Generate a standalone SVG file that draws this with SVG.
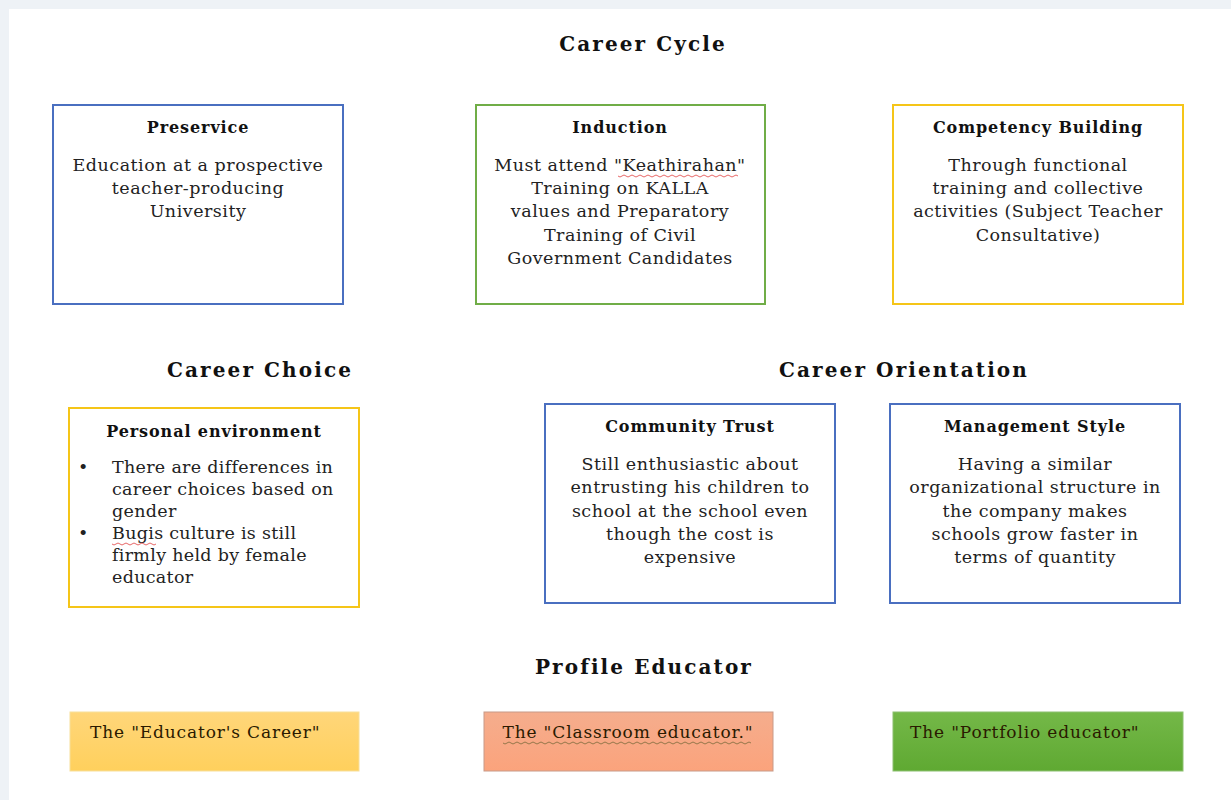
<svg xmlns="http://www.w3.org/2000/svg" width="1231" height="800" viewBox="0 0 1231 800">
<style>
.sec{font-family:"DejaVu Serif","Liberation Serif",serif;font-weight:bold;font-size:20px;fill:#111;text-anchor:middle;letter-spacing:2.1px}
.hd{font-family:"DejaVu Serif","Liberation Serif",serif;font-weight:bold;font-size:16px;fill:#111;text-anchor:middle;letter-spacing:0.9px}
.bd{font-family:"DejaVu Serif","Liberation Serif",serif;font-size:17.5px;fill:#222;text-anchor:middle;letter-spacing:0.5px}
.bl{font-family:"DejaVu Serif","Liberation Serif",serif;font-size:17.5px;fill:#222;letter-spacing:0.3px}
.blue{fill:#fff;stroke:#4a6fc0;stroke-width:2}
.green{fill:#fff;stroke:#70ad47;stroke-width:2}
.gold{fill:#fff;stroke:#f5c518;stroke-width:2}
.pf{font-family:"DejaVu Serif","Liberation Serif",serif;font-size:17px;fill:#2a1a00;letter-spacing:0.85px}
.sq{fill:none;stroke:#e04040;stroke-width:0.8}
</style>
<defs>
<linearGradient id="gY" x1="0" y1="0" x2="0" y2="1"><stop offset="0" stop-color="#ffd67a"/><stop offset="1" stop-color="#ffd05c"/></linearGradient>
<linearGradient id="gR" x1="0" y1="0" x2="0" y2="1"><stop offset="0" stop-color="#f5ad8d"/><stop offset="1" stop-color="#fba37c"/></linearGradient>
<linearGradient id="gG" x1="0" y1="0" x2="0" y2="1"><stop offset="0" stop-color="#74b848"/><stop offset="1" stop-color="#5fa932"/></linearGradient>
</defs>
<rect x="0" y="0" width="1231" height="800" fill="#eef2f6"/>
<rect x="9" y="9" width="1222" height="791" fill="#fff"/>

<text class="sec" x="643" y="51">Career Cycle</text>
<text class="sec" x="260" y="377">Career Choice</text>
<text class="sec" x="904" y="377">Career Orientation</text>
<text class="sec" x="644" y="674">Profile Educator</text>

<g id="preservice">
<rect class="blue" x="53" y="105" width="290" height="199"/>
<text class="hd" x="198" y="133">Preservice</text>
<text class="bd" x="198" y="171">Education at a prospective</text>
<text class="bd" x="198" y="194">teacher-producing</text>
<text class="bd" x="198" y="217">University</text>
</g>

<g id="induction">
<rect class="green" x="476" y="105" width="289" height="199"/>
<text class="hd" x="620" y="133">Induction</text>
<text class="bd" x="620" y="171">Must attend "Keathirahan"</text>
<path class="sq" d="M618 176 q2 2 4 0 t4 0 t4 0 t4 0 t4 0 t4 0 t4 0 t4 0 t4 0 t4 0 t4 0 t4 0 t4 0 t4 0 t4 0 t4 0 t4 0 t4 0 t4 0 t4 0 t4 0 t4 0 t4 0 t4 0 t4 0 t4 0 t4 0 t4 0 t4 0 t4 0"/>
<text class="bd" x="620" y="194">Training on KALLA</text>
<text class="bd" x="620" y="217">values and Preparatory</text>
<text class="bd" x="620" y="241">Training of Civil</text>
<text class="bd" x="620" y="264">Government Candidates</text>
</g>

<g id="competency">
<rect class="gold" x="893" y="105" width="290" height="199"/>
<text class="hd" x="1038" y="133">Competency Building</text>
<text class="bd" x="1038" y="171">Through functional</text>
<text class="bd" x="1038" y="194">training and collective</text>
<text class="bd" x="1038" y="217">activities (Subject Teacher</text>
<text class="bd" x="1038" y="241">Consultative)</text>
</g>

<g id="personal">
<rect class="gold" x="69" y="408" width="290" height="199"/>
<text class="hd" x="214" y="437">Personal environment</text>
<text class="bl" x="78" y="473">•</text>
<text class="bl" x="112" y="473">There are differences in</text>
<text class="bl" x="112" y="495">career choices based on</text>
<text class="bl" x="112" y="517">gender</text>
<text class="bl" x="78" y="539">•</text>
<text class="bl" x="112" y="539">Bugis culture is still</text>
<path class="sq" d="M112 544 q2 2 4 0 t4 0 t4 0 t4 0 t4 0 t4 0 t4 0 t4 0 t4 0 t4 0 t4 0"/>
<text class="bl" x="112" y="561">firmly held by female</text>
<text class="bl" x="112" y="583">educator</text>
</g>

<g id="community">
<rect class="blue" x="545" y="404" width="290" height="199"/>
<text class="hd" x="690" y="432">Community Trust</text>
<text class="bd" x="690" y="470">Still enthusiastic about</text>
<text class="bd" x="690" y="493">entrusting his children to</text>
<text class="bd" x="690" y="517">school at the school even</text>
<text class="bd" x="690" y="540">though the cost is</text>
<text class="bd" x="690" y="563">expensive</text>
</g>

<g id="management">
<rect class="blue" x="890" y="404" width="290" height="199"/>
<text class="hd" x="1035" y="432">Management Style</text>
<text class="bd" x="1035" y="470">Having a similar</text>
<text class="bd" x="1035" y="493">organizational structure in</text>
<text class="bd" x="1035" y="517">the company makes</text>
<text class="bd" x="1035" y="540">schools grow faster in</text>
<text class="bd" x="1035" y="563">terms of quantity</text>
</g>

<g id="educators-career">
<rect x="70" y="712" width="289" height="59" fill="url(#gY)" stroke="#f7df9a" stroke-width="1"/>
<text class="pf" x="90" y="738">The "Educator's Career"</text>
</g>

<g id="classroom-educator">
<rect x="484" y="712" width="289" height="59" fill="url(#gR)" stroke="#c89a88" stroke-width="1"/>
<text class="pf" x="628" y="738" text-anchor="middle">The "Classroom educator."</text>
<path d="M503 743 q2 2 4 0 t4 0 t4 0 t4 0 t4 0 t4 0 t4 0 t4 0 t4 0 t4 0 t4 0 t4 0 t4 0 t4 0 t4 0 t4 0 t4 0 t4 0 t4 0 t4 0 t4 0 t4 0 t4 0 t4 0 t4 0 t4 0 t4 0 t4 0 t4 0 t4 0 t4 0 t4 0 t4 0 t4 0 t4 0 t4 0 t4 0 t4 0 t4 0 t4 0 t4 0 t4 0 t4 0 t4 0 t4 0 t4 0 t4 0 t4 0 t4 0 t4 0 t4 0 t4 0 t4 0 t4 0 t4 0 t4 0 t4 0 t4 0 t4 0 t4 0 t4 0 t4 0" fill="none" stroke="#7a6a3a" stroke-width="0.8"/>
</g>

<g id="portfolio-educator">
<rect x="893" y="712" width="290" height="59" fill="url(#gG)" stroke="#8cc070" stroke-width="1"/>
<text class="pf" x="910" y="738">The "Portfolio educator"</text>
</g>

<g id="connectors"></g>
</svg>
